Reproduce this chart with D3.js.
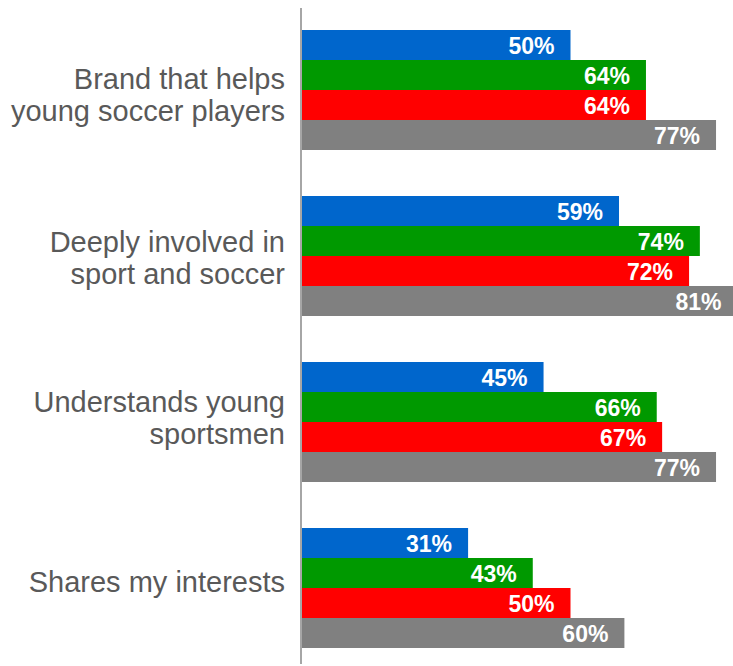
<!DOCTYPE html>
<html>
<head>
<meta charset="utf-8">
<script src="https://cdn.jsdelivr.net/npm/d3@7"></script>
<style>
  html, body { margin: 0; padding: 0; background: #fff; overflow: hidden; }
  svg { display: block; }
</style>
</head>
<body>
<svg id="chart" width="733" height="666"></svg>
<script>
// Survey statements (each entry holds the wrapped lines of one label)
const categories = [
  ["Brand that helps", "young soccer players"],
  ["Deeply involved in", "sport and soccer"],
  ["Understands young", "sportsmen"],
  ["Shares my interests"]
];

// Share of respondents agreeing, in percent, one array per series
const seriesBlue  = [50, 59, 45, 31];
const seriesGreen = [64, 74, 66, 43];
const seriesRed   = [64, 72, 67, 50];
const seriesGray  = [77, 81, 77, 60];

const seriesNames  = ["blue", "green", "red", "gray"];
const seriesValues = [seriesBlue, seriesGreen, seriesRed, seriesGray];
const seriesColors = ["#0066CC", "#009900", "#FF0000", "#808080"];

// Small vertical nudges for the category label blocks
const labelNudge = [5, 2, -4, -6];

const svg = d3.select("#chart");
const width = 733, height = 666;
const axisX = 301;

const x = d3.scaleLinear().domain([0, 100]).range([axisX, axisX + 539]);

const keys = categories.map((c, i) => "c" + i);
const y0 = d3.scaleBand()
  .domain(keys)
  .range([7, 671])
  .paddingInner(46 / 166)
  .paddingOuter(23 / 166);

const y1 = d3.scaleBand()
  .domain(seriesNames)
  .range([0, y0.bandwidth()]);

const color = d3.scaleOrdinal().domain(seriesNames).range(seriesColors);

const rows = [];
keys.forEach((k, ci) => {
  seriesNames.forEach((s, si) => {
    rows.push({ key: k, series: s, value: seriesValues[si][ci] });
  });
});

const groups = svg.append("g");

groups.selectAll("rect.bar")
  .data(rows)
  .join("rect")
  .attr("class", "bar")
  .attr("x", x(0))
  .attr("y", d => y0(d.key) + y1(d.series))
  .attr("width", d => x(d.value) - x(0))
  .attr("height", y1.bandwidth())
  .attr("fill", d => color(d.series));

groups.selectAll("text.val")
  .data(rows)
  .join("text")
  .attr("class", "val")
  .attr("x", d => x(d.value) - 16)
  .attr("y", d => y0(d.key) + y1(d.series) + y1.bandwidth() / 2 + 9)
  .attr("text-anchor", "end")
  .attr("font-family", "Arial, 'Liberation Sans', sans-serif")
  .attr("font-weight", "bold")
  .attr("font-size", 23)
  .attr("fill", "#ffffff")
  .text(d => d.value + "%");

// Vertical category axis line
svg.append("line")
  .attr("x1", axisX).attr("x2", axisX)
  .attr("y1", 8).attr("y2", 664)
  .attr("stroke", "#A6A6A6")
  .attr("stroke-width", 2);

// Category labels, right aligned against the axis
const lineGap = 31.5;
const catLabels = svg.append("g")
  .selectAll("text")
  .data(categories)
  .join("text")
  .attr("text-anchor", "end")
  .attr("font-family", "Arial, 'Liberation Sans', sans-serif")
  .attr("font-size", 29)
  .attr("fill", "#595959");

catLabels.each(function(lines, i) {
  const center = y0(keys[i]) + y0.bandwidth() / 2;
  const first = center + 10 - (lines.length - 1) * lineGap / 2 + labelNudge[i];
  d3.select(this).selectAll("tspan")
    .data(lines)
    .join("tspan")
    .attr("x", 285)
    .attr("y", (d, j) => first + j * lineGap)
    .text(d => d);
});
</script>
</body>
</html>
